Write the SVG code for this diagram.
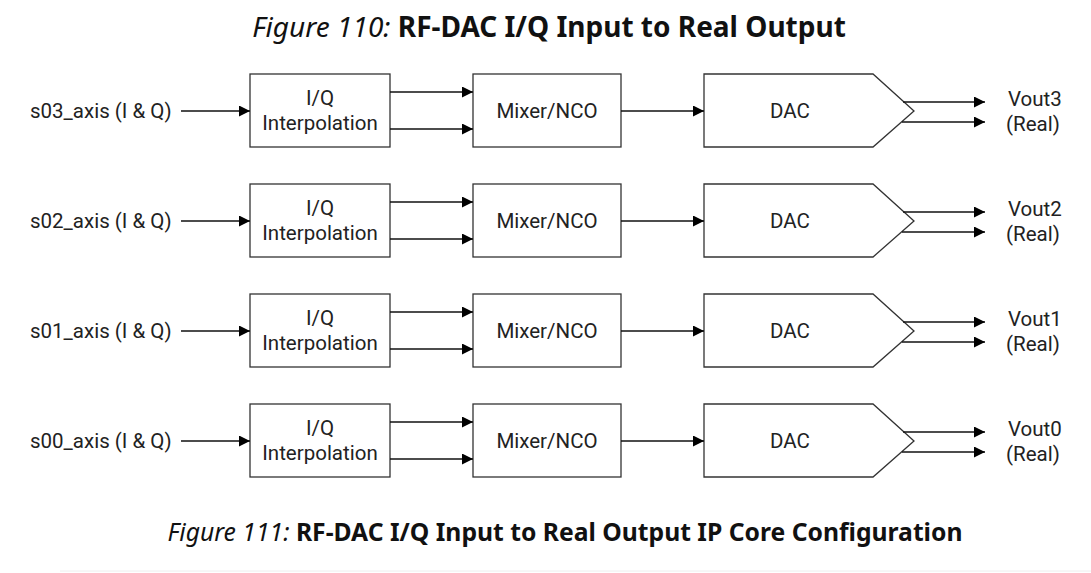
<svg xmlns="http://www.w3.org/2000/svg" width="1091" height="573" viewBox="0 0 1091 573">
<defs>
<marker id="arr" viewBox="0 0 10 10" refX="10" refY="5" markerWidth="17" markerHeight="11" markerUnits="userSpaceOnUse" orient="auto"><path d="M0,0 L10,5 L0,10 z" fill="#000"/></marker>
<style>
.box{fill:#fff;stroke:#333;stroke-width:1.3}
.ln{stroke:#111;stroke-width:1.5;fill:none;marker-end:url(#arr)}
.t{font-family:Roboto,"Liberation Sans",sans-serif;font-size:20.5px;fill:#222}
.c{text-anchor:middle}
.cap{font-family:"Noto Sans","Open Sans",sans-serif;fill:#111;text-anchor:middle}
.it{font-style:italic;font-weight:normal}
.b{font-weight:bold}
</style>
</defs>
<rect width="1091" height="573" fill="#fff"/>
<text class="cap" x="549" y="37" font-size="28"><tspan class="it">Figure 110:</tspan> <tspan class="b">RF-DAC I/Q Input to Real Output</tspan></text>
<text class="cap" x="565" y="541" font-size="24.7"><tspan class="it">Figure 111:</tspan> <tspan class="b">RF-DAC I/Q Input to Real Output IP Core Configuration</tspan></text>
<line x1="60" y1="571" x2="1091" y2="571" stroke="#eee" stroke-width="1"/>

<g id="row3">
<g id="in3"><text class="t" x="30" y="118">s03_axis (I &amp; Q)</text></g>
<g id="iq3"><rect class="box" x="250" y="74" width="140" height="73"/><text class="t c" x="320" y="105">I/Q</text><text class="t c" x="320" y="130">Interpolation</text></g>
<g id="mix3"><rect class="box" x="473" y="74" width="148" height="73"/><text class="t c" x="547" y="118">Mixer/NCO</text></g>
<g id="dac3"><path class="box" d="M704,74 H873 L914,111 L873,147 H704 Z"/><text class="t c" x="790" y="118">DAC</text></g>
<g id="out3"><text class="t" x="1008" y="106">Vout3</text><text class="t" x="1006" y="131">(Real)</text></g>
</g>
<g id="row2" transform="translate(0,110)">
<g id="in2"><text class="t" x="30" y="118">s02_axis (I &amp; Q)</text></g>
<g id="iq2"><rect class="box" x="250" y="74" width="140" height="73"/><text class="t c" x="320" y="105">I/Q</text><text class="t c" x="320" y="130">Interpolation</text></g>
<g id="mix2"><rect class="box" x="473" y="74" width="148" height="73"/><text class="t c" x="547" y="118">Mixer/NCO</text></g>
<g id="dac2"><path class="box" d="M704,74 H873 L914,111 L873,147 H704 Z"/><text class="t c" x="790" y="118">DAC</text></g>
<g id="out2"><text class="t" x="1008" y="106">Vout2</text><text class="t" x="1006" y="131">(Real)</text></g>
</g>
<g id="row1" transform="translate(0,220)">
<g id="in1"><text class="t" x="30" y="118">s01_axis (I &amp; Q)</text></g>
<g id="iq1"><rect class="box" x="250" y="74" width="140" height="73"/><text class="t c" x="320" y="105">I/Q</text><text class="t c" x="320" y="130">Interpolation</text></g>
<g id="mix1"><rect class="box" x="473" y="74" width="148" height="73"/><text class="t c" x="547" y="118">Mixer/NCO</text></g>
<g id="dac1"><path class="box" d="M704,74 H873 L914,111 L873,147 H704 Z"/><text class="t c" x="790" y="118">DAC</text></g>
<g id="out1"><text class="t" x="1008" y="106">Vout1</text><text class="t" x="1006" y="131">(Real)</text></g>
</g>
<g id="row0" transform="translate(0,330)">
<g id="in0"><text class="t" x="30" y="118">s00_axis (I &amp; Q)</text></g>
<g id="iq0"><rect class="box" x="250" y="74" width="140" height="73"/><text class="t c" x="320" y="105">I/Q</text><text class="t c" x="320" y="130">Interpolation</text></g>
<g id="mix0"><rect class="box" x="473" y="74" width="148" height="73"/><text class="t c" x="547" y="118">Mixer/NCO</text></g>
<g id="dac0"><path class="box" d="M704,74 H873 L914,111 L873,147 H704 Z"/><text class="t c" x="790" y="118">DAC</text></g>
<g id="out0"><text class="t" x="1008" y="106">Vout0</text><text class="t" x="1006" y="131">(Real)</text></g>
</g>

<g id="connectors">
<g id="c3">
<line class="ln" x1="181" y1="111" x2="250" y2="111"/>
<line class="ln" x1="390" y1="92" x2="473" y2="92"/>
<line class="ln" x1="390" y1="129" x2="473" y2="129"/>
<line class="ln" x1="621" y1="111" x2="704" y2="111"/>
<line class="ln" x1="903" y1="102" x2="985" y2="102"/>
<line class="ln" x1="902" y1="122" x2="985" y2="122"/>
</g>
<g id="c2" transform="translate(0,110)">
<line class="ln" x1="181" y1="111" x2="250" y2="111"/>
<line class="ln" x1="390" y1="92" x2="473" y2="92"/>
<line class="ln" x1="390" y1="129" x2="473" y2="129"/>
<line class="ln" x1="621" y1="111" x2="704" y2="111"/>
<line class="ln" x1="903" y1="102" x2="985" y2="102"/>
<line class="ln" x1="902" y1="122" x2="985" y2="122"/>
</g>
<g id="c1" transform="translate(0,220)">
<line class="ln" x1="181" y1="111" x2="250" y2="111"/>
<line class="ln" x1="390" y1="92" x2="473" y2="92"/>
<line class="ln" x1="390" y1="129" x2="473" y2="129"/>
<line class="ln" x1="621" y1="111" x2="704" y2="111"/>
<line class="ln" x1="903" y1="102" x2="985" y2="102"/>
<line class="ln" x1="902" y1="122" x2="985" y2="122"/>
</g>
<g id="c0" transform="translate(0,330)">
<line class="ln" x1="181" y1="111" x2="250" y2="111"/>
<line class="ln" x1="390" y1="92" x2="473" y2="92"/>
<line class="ln" x1="390" y1="129" x2="473" y2="129"/>
<line class="ln" x1="621" y1="111" x2="704" y2="111"/>
<line class="ln" x1="903" y1="102" x2="985" y2="102"/>
<line class="ln" x1="902" y1="122" x2="985" y2="122"/>
</g>
</g>
</svg>
